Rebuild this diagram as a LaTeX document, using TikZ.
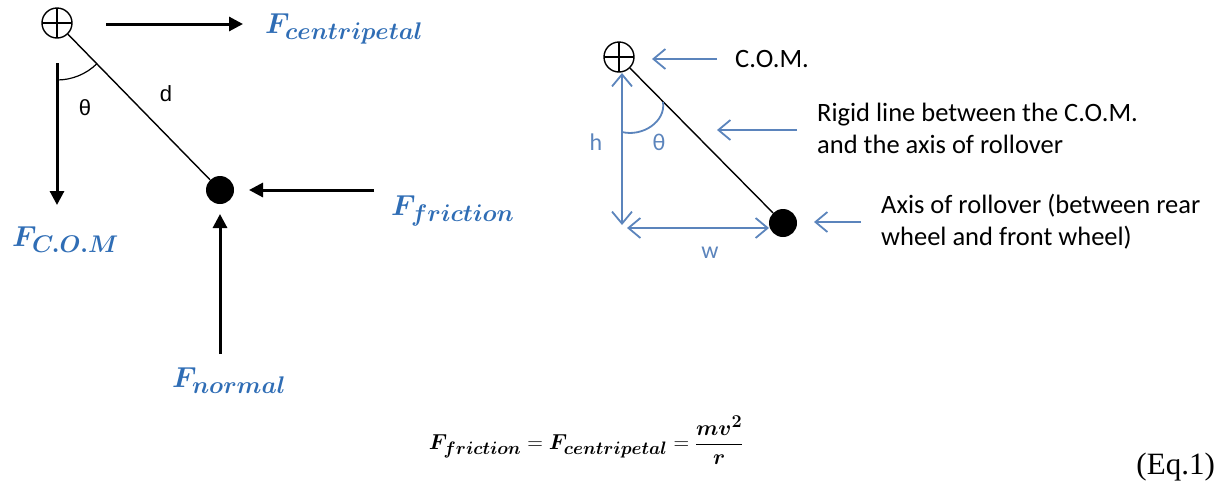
\documentclass[tikz,border=0pt]{standalone}
\usepackage{amsmath}
\usepackage{bm}
\usepackage{fontspec}
\usepackage{tikz}
\usetikzlibrary{arrows.meta,positioning}
\newfontfamily\carlito{Carlito}
\newfontfamily\arialike{Liberation Sans}
\newfontfamily\timeslike{Liberation Serif}
\definecolor{cF}{HTML}{2F6DB5}
\definecolor{cP}{HTML}{5B84BC}
\tikzset{
  comsym/.style={circle,draw,line width=1.4pt,inner sep=0pt,minimum size=30pt,
    path picture={\draw[line width=1.2pt]
      (path picture bounding box.north)--(path picture bounding box.south)
      (path picture bounding box.west)--(path picture bounding box.east);}},
  axisdot/.style={circle,fill=black,inner sep=0pt,minimum size=28pt},
  rod/.style={line width=1.4pt},
  force/.style={-{Triangle[length=14pt,width=14pt]},line width=3pt},
  pointer/.style={-{Straight Barb[length=12pt,width=20pt]},line width=1.8pt,cP},
  dimline/.style={{Straight Barb[length=12pt,width=20pt]}-{Straight Barb[length=12pt,width=20pt]},
    line width=1.8pt,cP},
  flabel/.style={text=cF,anchor=base west,inner sep=0pt,font=\Huge,scale=1.16,transform shape},
  note/.style={anchor=west,align=left,inner sep=0pt,font=\carlito\fontsize{26.5}{32}\selectfont},
  sym/.style={inner sep=0pt,font=\arialike\fontsize{22}{24}\selectfont},
  bsym/.style={inner sep=0pt,text=cP,font=\carlito\fontsize{24}{26}\selectfont},
}
\begin{document}
\begin{tikzpicture}[x=1pt,y=-1pt]
  \useasboundingbox (0,0) rectangle (1230,483);
  % left: forces on the car
  \node[comsym] (comL) at (57,23) {};
  \node[axisdot] (axL) at (220,190) {};
  \draw[rod] (comL) -- (axL);
  \draw[line width=1.2pt] (57,80) arc[start angle=-90,end angle=-45.5,radius=57pt];
  \node[sym] (thL) at (85,108) {θ};
  \node[sym] (dL) at (166,94) {d};
  \coordinate (cenT) at (106,24);  \coordinate (cenH) at (243,24);
  \draw[force] (cenT) -- (cenH);
  \node[flabel] (fcen) at (265,33) {$\bm{F_{centripetal}}$};
  \coordinate (comT) at (57,63);  \coordinate (comH) at (57,205);
  \draw[force] (comT) -- (comH);
  \node[flabel] (fcom) at (12,246) {$\bm{F_{C.O.M}}$};
  \coordinate (friT) at (374,190);  \coordinate (friH) at (249,190);
  \draw[force] (friT) -- (friH);
  \node[flabel] (ffri) at (391,215) {$\bm{F_{friction}}$};
  \coordinate (norT) at (220,354);  \coordinate (norH) at (220,214);
  \draw[force] (norT) -- (norH);
  \node[flabel] (fnor) at (172,387) {$\bm{F_{normal}}$};
  % right: geometry of the rollover
  \node[comsym] (comR) at (619,57) {};
  \node[axisdot] (axR) at (783,223) {};
  \draw[rod] (comR) -- (axR);
  \coordinate (hT) at (622,73);  \coordinate (hB) at (622,225);
  \draw[dimline] (hT) -- (hB);
  \coordinate (wL) at (627,228);  \coordinate (wR) at (769,228);
  \draw[dimline] (wL) -- (wR);
  \draw[line width=1.8pt,cP] (622,132) .. controls (642,137) and (666,122) .. (663,102);
  \node[bsym] (hR) at (596,142) {h};
  \node[bsym] (thR) at (659,142) {θ};
  \node[bsym] (wlab) at (710,253) {w};
  \node[note] (ncom) at (735,59) {C.O.M.};
  \coordinate (p1T) at (717,59);  \coordinate (p1H) at (652,59);
  \draw[pointer] (p1T) -- (p1H);
  \node[note] (nrod) at (817,128) {Rigid line between the C.O.M.\\and the axis of rollover};
  \coordinate (p2T) at (797,130);  \coordinate (p2H) at (717,130);
  \draw[pointer] (p2T) -- (p2H);
  \node[note] (nax) at (881,222) {Axis of rollover (between rear\\wheel and front wheel)};
  \coordinate (p3T) at (861,222);  \coordinate (p3H) at (814,222);
  \draw[pointer] (p3T) -- (p3H);
  % equation
  \node[inner sep=0pt,font=\Huge,scale=0.87,transform shape] (eq) at (586,440)
    {$\bm{F_{friction}}=\bm{F_{centripetal}}=\dfrac{\bm{mv^2}}{\bm{r}}$};
  \node[inner sep=0pt,anchor=base east,font=\timeslike\fontsize{31}{33}\selectfont] (eqn) at (1215,474) {(Eq.1)};
\end{tikzpicture}
\end{document}
